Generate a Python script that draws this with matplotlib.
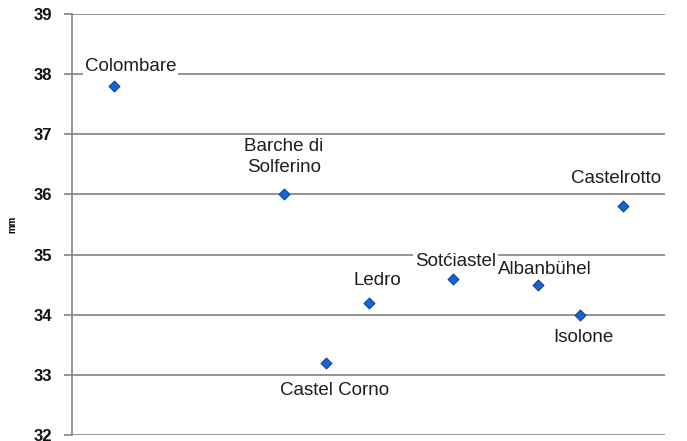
import matplotlib
matplotlib.use('Agg')
import matplotlib.pyplot as plt

# data
sites = ['Colombare', 'Barche di\nSolferino', 'Castel Corno', 'Ledro',
         'Sotćiastel', 'Albanbühel', 'Isolone', 'Castelrotto']
xpos = [1, 5, 6, 7, 9, 11, 12, 13]
mm = [37.8, 36.0, 33.2, 34.2, 34.6, 34.5, 34.0, 35.8]
yticks = [32, 33, 34, 35, 36, 37, 38, 39]

# label offsets in pixels (dx, dy)
offsets = [(16, 20), (0, 37), (8, -28), (9, 22), (2, 17), (7, 15), (3, -23), (-7, 28)]

plt.rcParams['font.family'] = ['Liberation Sans', 'DejaVu Sans']

fig = plt.figure(figsize=(6.87, 4.41), dpi=100)
ax = fig.add_axes([0.1048, 0.0136, 0.8632, 0.9546])

ax.scatter(xpos, mm, marker='D', s=30, color='#1a62d8', edgecolors='#0b3f9e',
           linewidths=0.8, zorder=4)

for name, x, y, (dx, dy) in zip(sites, xpos, mm, offsets):
    ax.annotate(name, (x, y), xytext=(dx, dy), textcoords='offset pixels',
                ha='center', va='center', fontsize=13.5, color='#1e1e1e',
                linespacing=1.3, zorder=3,
                bbox=dict(boxstyle='square,pad=0.1', fc='white', ec='none'))

ax.set_xlim(0, 14)
ax.set_ylim(32, 39)
ax.set_yticks(yticks)
ax.set_xticks([])
ax.grid(axis='y', color='#8c8c8c', linewidth=1.3, zorder=1)
ax.set_axisbelow(True)

for s in ['top', 'right', 'bottom']:
    ax.spines[s].set_visible(False)
ax.spines['left'].set_color('#8c8c8c')
ax.spines['left'].set_linewidth(1.3)
ax.tick_params(axis='y', length=6, width=1.3, color='#8c8c8c', pad=8,
               labelsize=12, labelcolor='#111111')
for lbl in ax.get_yticklabels():
    lbl.set_fontweight('bold')

ax.set_ylabel('mm', fontsize=7, fontweight='bold', labelpad=12)

fig.savefig('out.png', dpi=100)
